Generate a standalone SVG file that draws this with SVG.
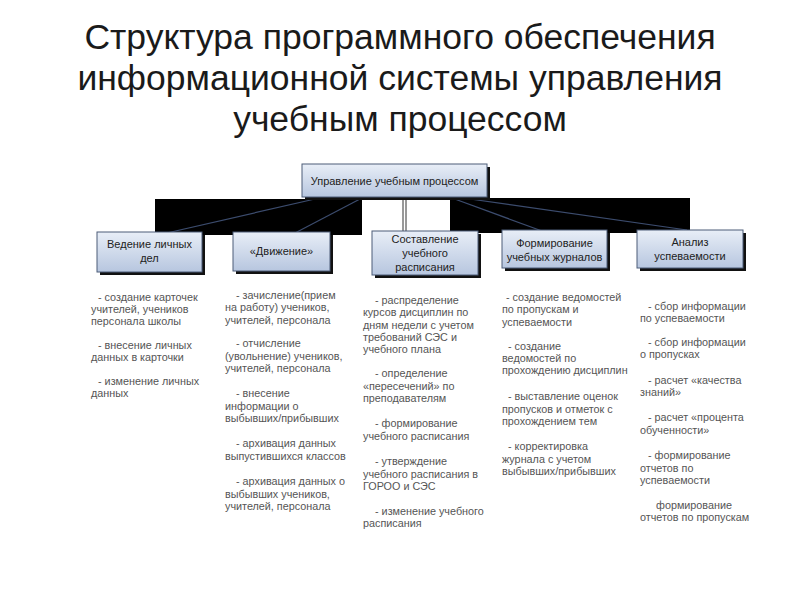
<svg xmlns="http://www.w3.org/2000/svg" width="800" height="600" viewBox="0 0 800 600">
<defs>
<linearGradient id="g" x1="0" y1="0" x2="0" y2="1">
<stop offset="0" stop-color="#e8eef7"/>
<stop offset="1" stop-color="#b7c6df"/>
</linearGradient>
</defs>
<style>
.title{font-family:"Liberation Sans",Arial,sans-serif;font-size:35.5px;fill:#1a1a1a;text-anchor:middle}
.box{fill:url(#g);stroke:#4d5c78;stroke-width:1}
.sh{fill:#111}
.bt{font-family:"Liberation Sans",Arial,sans-serif;font-size:11px;fill:#222;text-anchor:middle}
.tx{font-family:"Liberation Sans",Arial,sans-serif;font-size:10.8px;fill:#555}
.con{stroke:#3c4c6e;stroke-width:1.2;fill:none}
</style>
<rect width="800" height="600" fill="#fff"/>
<text class="title" x="400" y="49">Структура программного обеспечения</text>
<text class="title" x="400" y="90">информационной системы управления</text>
<text class="title" x="400" y="131">учебным процессом</text>

<g id="connectors">
<rect x="155" y="199" width="207" height="36" fill="#000"/>
<rect x="450" y="198" width="240" height="35" fill="#000"/>
<line class="con" x1="315" y1="199" x2="158" y2="235"/>
<line class="con" x1="360" y1="199" x2="295" y2="233"/>
<line class="con" x1="452" y1="198" x2="553" y2="235"/>
<line class="con" x1="463" y1="198" x2="687" y2="230"/>
<line x1="403" y1="197" x2="403" y2="232" stroke="#333" stroke-width="1"/>
<line x1="406" y1="197" x2="406" y2="232" stroke="#333" stroke-width="1"/>
</g>

<g id="root">
<rect class="sh" x="305" y="167" width="185" height="33"/>
<rect class="box" x="302" y="164" width="185" height="33"/>
<text class="bt" x="394.5" y="184.5">Управление учебным процессом</text>
</g>

<g id="n1">
<rect class="sh" x="100" y="235" width="105" height="40"/>
<rect class="box" x="97" y="232" width="105" height="40"/>
<text class="bt" x="149.5" y="248">Ведение личных</text>
<text class="bt" x="149.5" y="262">дел</text>
</g>
<g id="n2">
<rect class="sh" x="236" y="235" width="97" height="39"/>
<rect class="box" x="233" y="232" width="97" height="39"/>
<text class="bt" x="281.5" y="255">«Движение»</text>
</g>
<g id="n3">
<rect class="sh" x="375" y="234" width="106" height="44"/>
<rect class="box" x="372" y="231" width="106" height="44"/>
<text class="bt" x="425" y="243">Составление</text>
<text class="bt" x="425" y="257">учебного</text>
<text class="bt" x="425" y="271">расписания</text>
</g>
<g id="n4">
<rect class="sh" x="505" y="233" width="105" height="38"/>
<rect class="box" x="502" y="230" width="105" height="38"/>
<text class="bt" x="554.5" y="247">Формирование</text>
<text class="bt" x="554.5" y="261">учебных журналов</text>
</g>
<g id="n5">
<rect class="sh" x="640" y="233" width="106" height="38"/>
<rect class="box" x="637" y="230" width="106" height="38"/>
<text class="bt" x="690" y="246">Анализ</text>
<text class="bt" x="690" y="260">успеваемости</text>
</g>

<g id="t1" class="tx">
<text x="98" y="301">- создание карточек</text>
<text x="91" y="313">учителей, учеников</text>
<text x="91" y="325">персонала школы</text>
<text x="98" y="349">- внесение личных</text>
<text x="91" y="361">данных  в карточки</text>
<text x="98" y="385">- изменение личных</text>
<text x="91" y="397">данных</text>
</g>
<g id="t2" class="tx">
<text x="236" y="299">- зачисление(прием</text>
<text x="225" y="311">на работу) учеников,</text>
<text x="225" y="324">учителей, персонала</text>
<text x="236" y="347">- отчисление</text>
<text x="225" y="360">(увольнение) учеников,</text>
<text x="225" y="372">учителей, персонала</text>
<text x="236" y="397">- внесение</text>
<text x="225" y="410">информации о</text>
<text x="225" y="422">выбывших/прибывших</text>
<text x="236" y="447">- архивация данных</text>
<text x="225" y="460">выпустившихся классов</text>
<text x="236" y="485">- архивация данных  о</text>
<text x="225" y="498">выбывших учеников,</text>
<text x="225" y="510">учителей, персонала</text>
</g>
<g id="t3" class="tx">
<text x="375" y="304">- распределение</text>
<text x="363" y="316">курсов дисциплин по</text>
<text x="363" y="329">дням недели с учетом</text>
<text x="363" y="341">требований СЭС и</text>
<text x="363" y="353">учебного плана</text>
<text x="375" y="377">- определение</text>
<text x="363" y="390">«пересечений» по</text>
<text x="363" y="402">преподавателям</text>
<text x="375" y="427">- формирование</text>
<text x="363" y="440">учебного расписания</text>
<text x="375" y="465">- утверждение</text>
<text x="363" y="478">учебного расписания в</text>
<text x="363" y="490">ГОРОО и СЭС</text>
<text x="375" y="515">- изменение учебного</text>
<text x="363" y="527">расписания</text>
</g>
<g id="t4" class="tx">
<text x="506" y="301">- создание ведомостей</text>
<text x="502" y="313">по пропускам и</text>
<text x="502" y="326">успеваемости</text>
<text x="508" y="350">- создание</text>
<text x="502" y="362">ведомостей по</text>
<text x="502" y="374">прохождению дисциплин</text>
<text x="508" y="400">- выставление оценок</text>
<text x="502" y="413">пропусков и отметок с</text>
<text x="502" y="425">прохождением тем</text>
<text x="508" y="450">- корректировка</text>
<text x="502" y="463">журнала с учетом</text>
<text x="502" y="475">выбывших/прибывших</text>
</g>
<g id="t5" class="tx">
<text x="648" y="310">- сбор информации</text>
<text x="640" y="322">по успеваемости</text>
<text x="648" y="346">- сбор информации</text>
<text x="640" y="358">о пропусках</text>
<text x="648" y="384">- расчет «качества</text>
<text x="640" y="396">знаний»</text>
<text x="648" y="421">- расчет «процента</text>
<text x="640" y="434">обученности»</text>
<text x="648" y="459">- формирование</text>
<text x="640" y="472">отчетов по</text>
<text x="640" y="484">успеваемости</text>
<text x="656" y="509">формирование</text>
<text x="640" y="521">отчетов по пропускам</text>
</g>
</svg>
